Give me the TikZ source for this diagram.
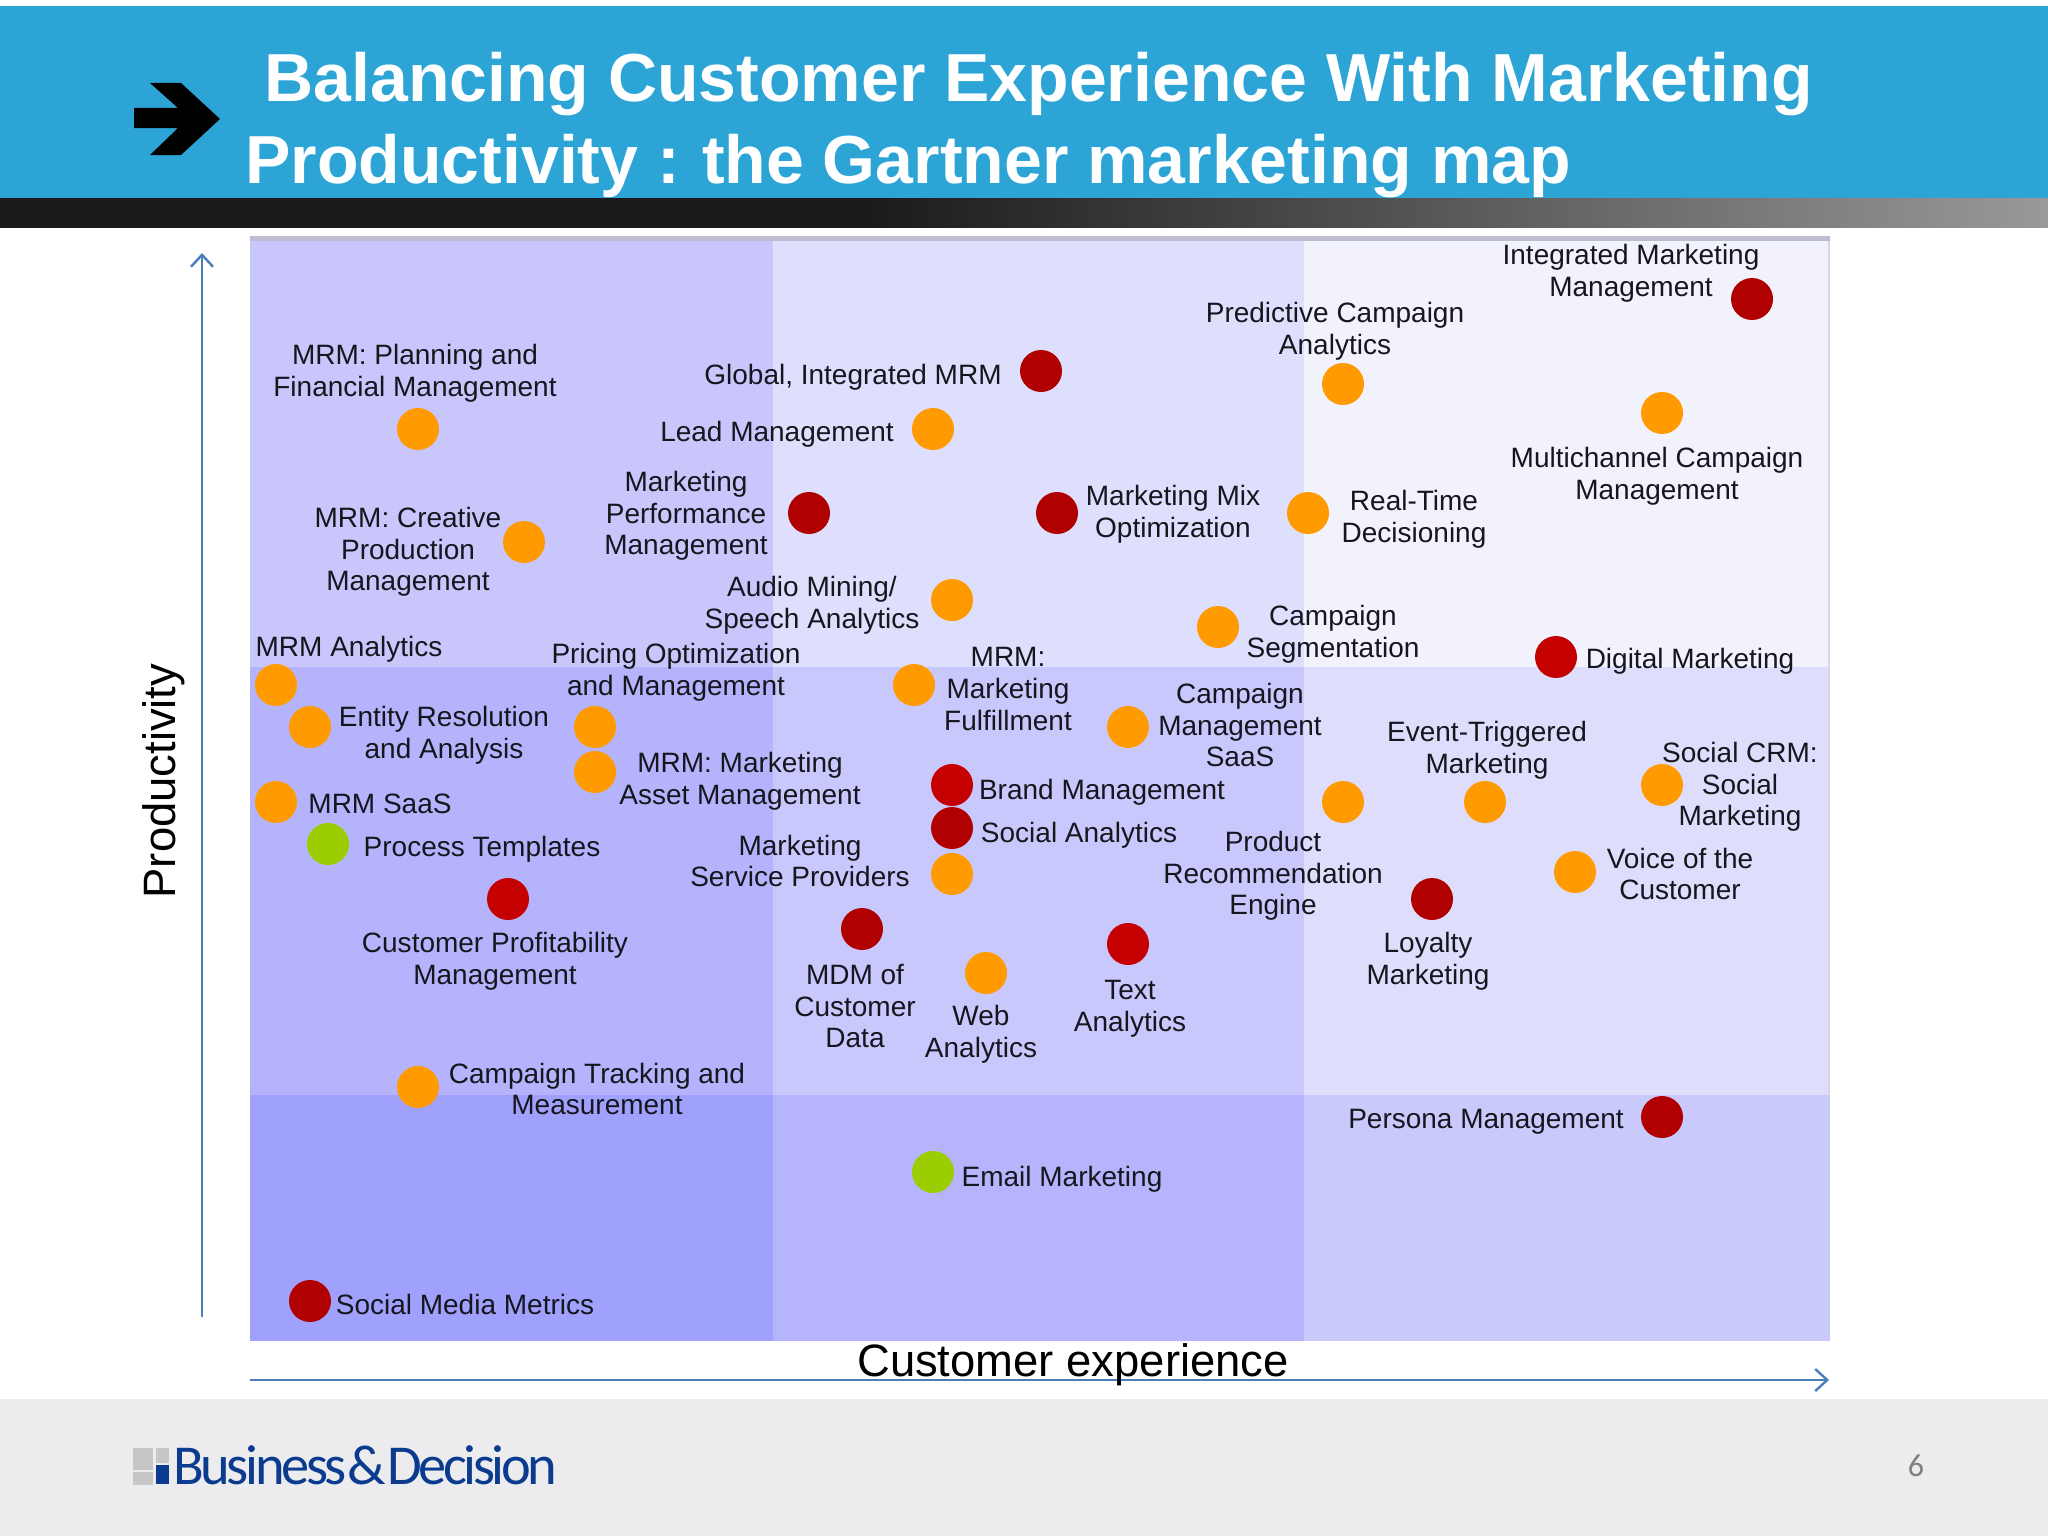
\documentclass[tikz,border=0pt]{standalone}
\usepackage{fontspec}
\usetikzlibrary{arrows.meta,shapes,positioning}
\setmainfont{Liberation Sans}
\newfontfamily\logofont[LetterSpace=-6]{Carlito}
\newfontfamily\pagefont{Carlito}
\definecolor{bandblue}{HTML}{2CA5D6}
\definecolor{banddark}{HTML}{1C1A1C}
\definecolor{bandgray}{HTML}{999999}
\definecolor{footgray}{HTML}{ECECEE}
\definecolor{axisblue}{HTML}{4A7EBB}
\definecolor{logoblue}{HTML}{0B3B8F}
\definecolor{logogray}{HTML}{C6C6C8}
\definecolor{chartedge}{HTML}{BDBDD2}
\definecolor{dotorange}{HTML}{FF9A00}
\definecolor{dotred}{HTML}{C40000}
\definecolor{dotdark}{HTML}{B00000}
\definecolor{dotgreen}{HTML}{9CCD00}
\definecolor{labelink}{HTML}{16161E}
\pgfdeclarehorizontalshading{bandfade}{100bp}{color(0bp)=(banddark); color(46.25bp)=(banddark); color(75bp)=(bandgray); color(100bp)=(bandgray)}
\tikzset{
  dot/.style={circle, inner sep=0pt, minimum size=21pt},
  orangedot/.style={dot, fill=dotorange},
  reddot/.style={dot, fill=dotred},
  darkdot/.style={dot, fill=dotdark},
  greendot/.style={dot, fill=dotgreen},
  lbl/.style={inner sep=0pt, align=center, text=labelink, font=\fontsize{14}{15.8}\selectfont},
  headline/.style={anchor=base west, inner sep=0pt, text=white, font=\fontsize{34}{40}\selectfont\bfseries},
  axisline/.style={axisblue, line width=1.2pt, -{Straight Barb[length=6pt,width=11pt]}},
  axislabel/.style={inner sep=0pt, text=black, font=\fontsize{22.7}{26}\selectfont}
}

\begin{document}
\begin{tikzpicture}[x=0.5pt,y=-0.5pt]
    \useasboundingbox (0,0) rectangle (2048,1536);

    % Header band
    \fill[bandblue] (0,6) rectangle (2048,198);
    \shade[shading=bandfade] (0,198) rectangle (2048,227);
    \fill[black] (134,108) -- (178,108) -- (150,83) -- (181,83) -- (220,119)
        -- (181,155) -- (150,155) -- (178,128) -- (134,128) -- cycle;
    \node[headline] (titletop) at (264,102) {Balancing Customer Experience With Marketing};
    \node[headline] (titlebot) at (245,183) {Productivity :\kern-1.5pt{} the Gartner marketing map};

    % Footer
    \fill[footgray] (0,1399) rectangle (2048,1536);
    \fill[logogray] (133,1448) rectangle (153,1470);
    \fill[logogray] (156,1448) rectangle (169,1463);
    \fill[logogray] (133,1472) rectangle (153,1485);
    \fill[logoblue] (156,1465) rectangle (169,1484);
    \node[anchor=base west, inner sep=0pt, text=logoblue, font=\logofont\fontsize{28.2}{30}\selectfont]
        (logotext) at (173,1484) {Business\kern0.5pt\&\kern0.5ptDecision};
    \node[inner sep=0pt, text=black!50, font=\pagefont\fontsize{16}{18}\selectfont] (pagenum) at (1916,1466) {6};

    % Map background
    \fill[chartedge] (250,236) rectangle (1830,241);
    \fill[fill={rgb,255:red,201;green,198;blue,251}] (250,241) rectangle (773,667);
    \fill[fill={rgb,255:red,222;green,223;blue,252}] (773,241) rectangle (1304,667);
    \fill[fill={rgb,255:red,242;green,242;blue,252}] (1304,241) rectangle (1830,667);
    \fill[fill={rgb,255:red,180;green,179;blue,251}] (250,667) rectangle (773,1095);
    \fill[fill={rgb,255:red,201;green,200;blue,252}] (773,667) rectangle (1304,1095);
    \fill[fill={rgb,255:red,222;green,222;blue,252}] (1304,667) rectangle (1830,1095);
    \fill[fill={rgb,255:red,160;green,160;blue,253}] (250,1095) rectangle (773,1341);
    \fill[fill={rgb,255:red,181;green,180;blue,252}] (773,1095) rectangle (1304,1341);
    \fill[fill={rgb,255:red,201;green,201;blue,251}] (1304,1095) rectangle (1830,1341);
    \fill[chartedge!60] (1828,241) rectangle (1830,1095);

    % Axes
    \coordinate (ybot) at (202,1317);
    \coordinate (ytop) at (202,253);
    \coordinate (xleft) at (250,1380);
    \coordinate (xright) at (1829,1380);
    \draw[axisline] (ybot) -- (ytop);
    \draw[axisline] (xleft) -- (xright);
    \node[axislabel, rotate=90] (ylabel) at (164,781) {Productivity};
    \node[axislabel] (xlabel) at (1073,1365) {Customer experience};

    % Top row
    \node[orangedot] (dplanning) at (418,429) {};
    \node[lbl] (lplanning) at (415,373) {MRM: Planning and\\Financial Management};
    \node[darkdot] (dglobal) at (1041,371) {};
    \node[lbl] (lglobal) at (853,377) {Global, Integrated MRM};
    \node[orangedot] (dlead) at (933,429) {};
    \node[lbl] (llead) at (777,434) {Lead Management};
    \node[orangedot] (dpredictive) at (1343,384) {};
    \node[lbl] (lpredictive) at (1335,331) {Predictive Campaign\\Analytics};
    \node[darkdot] (dintegrated) at (1752,299) {};
    \node[lbl] (lintegrated) at (1631,273) {Integrated Marketing\\Management};
    \node[orangedot] (dmultichannel) at (1662,413) {};
    \node[lbl] (lmultichannel) at (1657,476) {Multichannel Campaign\\Management};
    \node[orangedot] (dcreative) at (524,542) {};
    \node[lbl] (lcreative) at (408,552) {MRM: Creative\\Production\\Management};
    \node[darkdot] (dperformance) at (809,513) {};
    \node[lbl] (lperformance) at (686,516) {Marketing\\Performance\\Management};
    \node[darkdot] (dmix) at (1057,513) {};
    \node[lbl] (lmix) at (1173,514) {Marketing Mix\\Optimization};
    \node[orangedot] (drealtime) at (1308,513) {};
    \node[lbl] (lrealtime) at (1414,519) {Real-Time\\Decisioning};
    \node[orangedot] (daudio) at (952,600) {};
    \node[lbl] (laudio) at (812,605) {Audio Mining/\\Speech Analytics};
    \node[orangedot] (dsegmentation) at (1218,627) {};
    \node[lbl] (lsegmentation) at (1333,634) {Campaign\\Segmentation};
    \node[reddot] (ddigital) at (1556,657) {};
    \node[lbl] (ldigital) at (1690,661) {Digital Marketing};
    \node[orangedot] (danalytics) at (276,685) {};
    \node[lbl] (lanalytics) at (349,649) {MRM Analytics};

    % Middle row
    \node[orangedot] (dentity) at (310,727) {};
    \node[lbl] (lentity) at (444,735) {Entity Resolution\\and Analysis};
    \node[orangedot] (dpricing) at (595,727) {};
    \node[lbl] (lpricing) at (676,672) {Pricing Optimization\\and Management};
    \node[orangedot] (dasset) at (595,772) {};
    \node[lbl] (lasset) at (740,781) {MRM: Marketing\\Asset Management};
    \node[orangedot] (dfulfillment) at (914,685) {};
    \node[lbl] (lfulfillment) at (1008,689) {MRM:\\Marketing\\Fulfillment};
    \node[orangedot] (dsaas) at (1128,727) {};
    \node[lbl] (lsaas) at (1240,725) {Campaign\\Management\\SaaS};
    \node[orangedot] (dproduct) at (1343,802) {};
    \node[lbl] (lproduct) at (1273,876) {Product\\Recommendation\\Engine};
    \node[orangedot] (devent) at (1485,802) {};
    \node[lbl] (levent) at (1487,750) {Event-Triggered\\Marketing};
    \node[orangedot] (dsocialcrm) at (1662,785) {};
    \node[lbl] (lsocialcrm) at (1740,787) {Social CRM:\\Social\\Marketing};
    \node[orangedot] (dmrmsaas) at (276,802) {};
    \node[lbl] (lmrmsaas) at (380,804) {MRM SaaS};
    \node[greendot] (dprocess) at (328,844) {};
    \node[lbl] (lprocess) at (482,849) {Process Templates};
    \node[reddot] (dbrand) at (952,785) {};
    \node[lbl] (lbrand) at (1102,792) {Brand Management};
    \node[darkdot] (dsocial) at (952,828) {};
    \node[lbl] (lsocial) at (1079,835) {Social Analytics};
    \node[orangedot] (dservice) at (952,874) {};
    \node[lbl] (lservice) at (800,861) {Marketing\\Service Providers};
    \node[reddot] (dprofit) at (508,899) {};
    \node[lbl] (lprofit) at (495,961) {Customer Profitability\\Management};
    \node[darkdot] (dmdm) at (862,929) {};
    \node[lbl] (lmdm) at (855,1006) {MDM of\\Customer\\Data};
    \node[orangedot] (dweb) at (986,973) {};
    \node[lbl] (lweb) at (981,1034) {Web\\Analytics};
    \node[reddot] (dtext) at (1128,944) {};
    \node[lbl] (ltext) at (1130,1009) {Text\\Analytics};
    \node[darkdot] (dloyalty) at (1432,899) {};
    \node[lbl] (lloyalty) at (1428,961) {Loyalty\\Marketing};
    \node[orangedot] (dvoice) at (1575,872) {};
    \node[lbl] (lvoice) at (1680,874) {Voice of the\\Customer};
    \node[orangedot] (dtracking) at (418,1087) {};
    \node[lbl] (ltracking) at (597,1089) {Campaign Tracking and\\Measurement};

    % Bottom row
    \node[darkdot] (dpersona) at (1662,1117) {};
    \node[lbl] (lpersona) at (1486,1122) {Persona Management};
    \node[greendot] (demail) at (933,1172) {};
    \node[lbl] (lemail) at (1062,1179) {Email Marketing};
    \node[darkdot] (dmetrics) at (310,1301) {};
    \node[lbl] (lmetrics) at (465,1304) {Social Media Metrics};
\end{tikzpicture}
\end{document}
